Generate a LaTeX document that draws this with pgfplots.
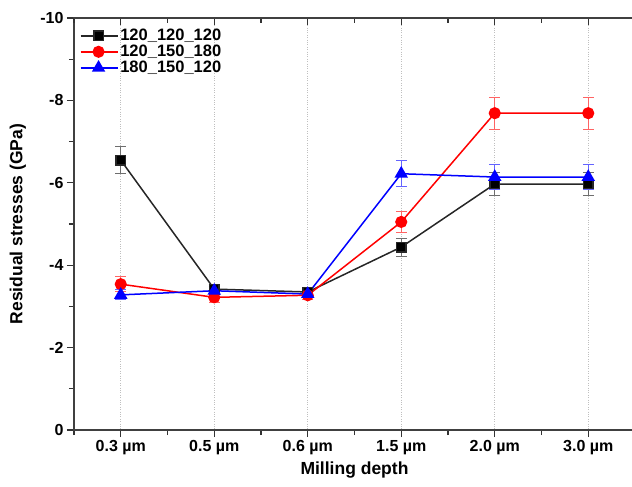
\documentclass[border=0pt]{standalone}
\usepackage{fontspec}
\setmainfont{Liberation Sans}
\usepackage{pgfplots}
\pgfplotsset{compat=1.18}
\definecolor{errblack}{RGB}{110,110,110}
\definecolor{errred}{RGB}{255,100,100}
\definecolor{errblue}{RGB}{100,100,255}
\begin{document}
\begin{tikzpicture}
\useasboundingbox (-74pt,-57pt) rectangle (558pt,430pt);
\begin{axis}[
  scale only axis,
  width=561pt, height=412pt,
  xmin=-0.5, xmax=5.5,
  ymin=-10, ymax=0,
  y dir=reverse,
  xtick={0,...,5},
  xticklabels={0.3 µm, 0.5 µm, 0.6 µm, 1.5 µm, 2.0 µm, 3.0 µm},
  minor xtick={-0.5,0.5,1.5,2.5,3.5,4.5,5.5},
  ytick={-10,-8,-6,-4,-2,0},
  minor ytick={-9,-7,-5,-3,-1},
  xtick pos=bottom, ytick pos=left,
  tick align=outside,
  major tick length=7pt, minor tick length=5pt,
  tick style={black!80, line width=1.1pt},
  axis line style={line width=1.1pt, black!75},
  xmajorgrids, grid style={dotted, gray!50, line width=0.7pt},
  ticklabel style={font=\fontsize{16}{18}\selectfont\bfseries},
  /pgf/number format/assume math mode=true,
  xlabel={Milling depth}, ylabel={Residual stresses (GPa)},
  label style={font=\fontsize{17.5}{19}\selectfont\bfseries},
  xlabel style={at={(axis description cs:0.5,-0.097)}, anchor=center},
  ylabel style={at={(axis description cs:-0.1,0.5)}, anchor=center},
  legend style={at={(axis description cs:0.01,0.978)}, anchor=north west,
    draw=none, fill=none, font=\fontsize{16.5}{18}\selectfont\bfseries,
    row sep=-1pt, inner sep=0pt},
  legend cell align=left,
  legend image code/.code={\draw[#1, mark repeat=2, mark phase=2] plot coordinates {(0pt,0pt) (18pt,0pt) (37pt,0pt)};},
]
\addplot[black!85, line width=1.5pt, mark=square*, mark size=4.7pt, mark options={solid, fill=black},
  error bars/.cd, y dir=both, y explicit,
  error bar style={errblack, line width=1pt},
  error mark options={rotate=90, mark size=5.5pt, errblack, line width=1pt}]
  coordinates {(0,-6.55) +- (0,0.33) (1,-3.42) +- (0,0.1) (2,-3.35) +- (0,0.08)
               (3,-4.44) +- (0,0.22) (4,-5.97) +- (0,0.29) (5,-5.97) +- (0,0.29)};
\addlegendentry{120\_120\_120}
\addplot[red, line width=1.5pt, mark=*, mark size=5.3pt, mark options={solid, fill=red},
  error bars/.cd, y dir=both, y explicit,
  error bar style={errred, line width=1pt},
  error mark options={rotate=90, mark size=5.5pt, errred, line width=1pt}]
  coordinates {(0,-3.54) +- (0,0.18) (1,-3.22) +- (0,0.12) (2,-3.27) +- (0,0.1)
               (3,-5.05) +- (0,0.26) (4,-7.69) +- (0,0.39) (5,-7.69) +- (0,0.39)};
\addlegendentry{120\_150\_180}
\addplot[blue, line width=1.5pt, mark=triangle*, mark size=6.3pt, mark options={solid, fill=blue},
  error bars/.cd, y dir=both, y explicit,
  error bar style={errblue, line width=1pt},
  error mark options={rotate=90, mark size=5.5pt, errblue, line width=1pt}]
  coordinates {(0,-3.28) +- (0,0.12) (1,-3.38) +- (0,0.1) (2,-3.30) +- (0,0.08)
               (3,-6.22) +- (0,0.31) (4,-6.14) +- (0,0.3) (5,-6.14) +- (0,0.3)};
\addlegendentry{180\_150\_120}
\end{axis}
\begin{axis}[
  scale only axis,
  width=561pt, height=412pt,
  xmin=-0.5, xmax=5.5,
  ymin=-10, ymax=0,
  axis x line*=top, hide y axis,
  xtick={0,...,5}, xticklabels={},
  minor xtick={-0.5,0.5,1.5,2.5,3.5,4.5,5.5},
  tick align=inside,
  major tick length=7pt, minor tick length=5pt,
  tick style={black!80, line width=1.1pt},
  axis line style={line width=1.1pt, black!75},
]
\end{axis}
\end{tikzpicture}
\end{document}
